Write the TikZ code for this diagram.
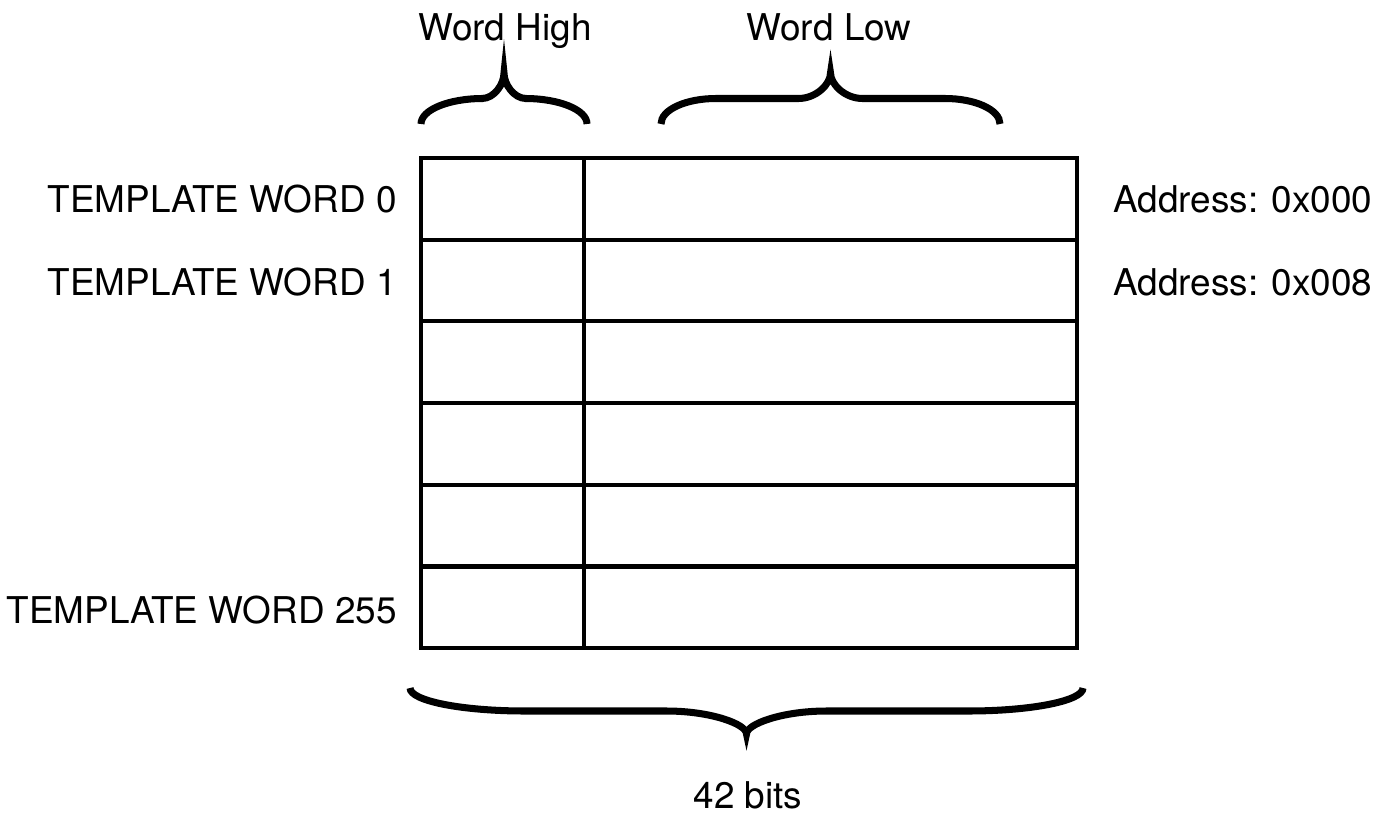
\documentclass[tikz,border=0pt]{standalone}
\usepackage{fontspec}
\setmainfont{TeX Gyre Heros}
% curly brace: left x, right x, y of ends, signed height, end curl, tip curl
\newcommand{\curlybrace}[6]{%
  \pgfmathsetmacro\bxm{(#1+#2)/2}%
  \pgfmathsetmacro\bym{#3+(#4)/2}%
  \pgfmathsetmacro\byt{#3+(#4)}%
  \pgfmathsetmacro\bya{#3+0.28*(#4)}%
  \pgfmathsetmacro\byb{#3+0.78*(#4)}%
  \draw[bracket] (#1,#3) .. controls (#1,\bya) and (#1+0.45*#5,\bym) .. (#1+#5,\bym)
    -- (\bxm-#6,\bym) .. controls (\bxm-0.45*#6,\bym) and (\bxm,\byb) .. (\bxm,\byt)
    .. controls (\bxm,\byb) and (\bxm+0.45*#6,\bym) .. (\bxm+#6,\bym)
    -- (#2-#5,\bym) .. controls (#2-0.45*#5,\bym) and (#2,\bya) .. (#2,#3);
}
\begin{document}
\begin{tikzpicture}[x=0.02cm,y=-0.02cm,
  every node/.style={font=\fontsize{21}{25}\selectfont,inner sep=0pt},
  grid/.style={line width=2.5pt},
  bracket/.style={line width=4pt}]
\useasboundingbox (0,0) rectangle (1385,814);
% template memory
\coordinate (tl) at (421,158);
\coordinate (br) at (1077,648);
\draw[grid] (tl) rectangle (br);
\foreach \y in {239.7,321.3,403,484.7,566.3}
  \draw[grid] (421,\y) -- (1077,\y);
\draw[grid] (584,158) -- (584,648);
% labels
\node[anchor=base east] (w0) at (397,213) {TEMPLATE WORD 0};
\node[anchor=base east] (w1) at (397,295) {TEMPLATE WORD 1};
\node[anchor=base east] (w255) at (397,623) {TEMPLATE WORD 255};
\node[anchor=base west] (a0) at (1113,213) {Address: 0x000};
\node[anchor=base west] (a1) at (1113,295) {Address: 0x008};
\node[anchor=base] (hi) at (505,41) {Word High};
\node[anchor=base] (lo) at (829,41) {Word Low};
\node[anchor=base] (bits) at (748,808) {42 bits};
% braces
\curlybrace{421}{587}{124}{-51}{62}{22}
\curlybrace{661}{1000}{124}{-51}{55}{32}
\curlybrace{410}{1083}{688}{46}{115}{80}
\end{tikzpicture}
\end{document}
